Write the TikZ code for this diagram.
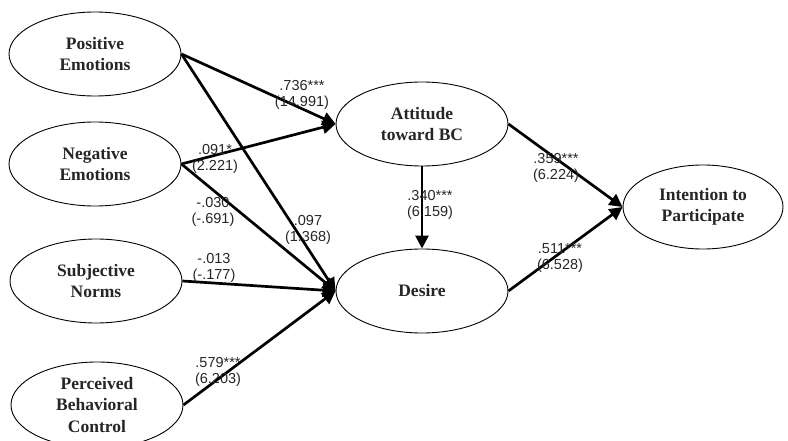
\documentclass[tikz,border=0pt]{standalone}
\usepackage{fontspec}
\setmainfont{Liberation Serif}
\newfontfamily\numfont{Liberation Sans}
\usetikzlibrary{arrows.meta,shapes.geometric}
\tikzset{
  latent/.style={draw,ellipse,line width=0.9pt,inner sep=0pt,
    minimum width=172pt,minimum height=84pt,align=center,
    font=\fontsize{17.5}{21.5}\selectfont\bfseries,text=black!85},
  pathline/.style={line width=2.7pt,-{Triangle[length=13pt,width=13pt]}},
  est/.style={align=center,font=\numfont\fontsize{14.5}{16.5}\selectfont,
    text=black!85,inner sep=0pt}
}
\begin{document}
\begin{tikzpicture}[x=1pt,y=-1pt]
  \useasboundingbox (0,0) rectangle (788,441);
  % exogenous constructs
  \node[latent] (pos) at (95,54) {Positive\\Emotions};
  \node[latent] (neg) at (95,164) {Negative\\Emotions};
  \node[latent] (subj) at (96,281) {Subjective\\Norms};
  \node[latent,minimum height=86pt] (pbc) at (97,405) {Perceived\\Behavioral\\Control};
  % mediators and outcome
  \node[latent] (att) at (422,124) {Attitude\\toward BC};
  \node[latent] (des) at (422,291) {Desire};
  \node[latent,minimum width=160pt] (int) at (703,207) {Intention to\\Participate};

  \draw[pathline] (pos.east) -- (att.west);
  \draw[pathline] (pos.east) -- (des.west);
  \draw[pathline] (neg.east) -- (att.west);
  \draw[pathline] (neg.east) -- (des.west);
  \draw[pathline] (subj.east) -- (des.west);
  \draw[pathline] (pbc.east) -- (des.west);
  \draw[pathline] (att.south) -- (des.north);
  \draw[pathline] (att.east) -- (int.west);
  \draw[pathline] (des.east) -- (int.west);

  % path estimates
  \node[est] (e1) at (302,95) {.736***\\(14.991)};
  \node[est] (e2) at (215,159) {.091*\\(2.221)};
  \node[est] (e3) at (213,212) {-.030\\(-.691)};
  \node[est] (e4) at (308,230) {.097\\(1.368)};
  \node[est] (e5) at (214,268) {-.013\\(-.177)};
  \node[est] (e6) at (218,372) {.579***\\(6.203)};
  \node[est] (e7) at (430,205) {.340***\\(6.159)};
  \node[est] (e8) at (556,168) {.359***\\(6.224)};
  \node[est] (e9) at (560,258) {.511***\\(6.528)};
\end{tikzpicture}
\end{document}
